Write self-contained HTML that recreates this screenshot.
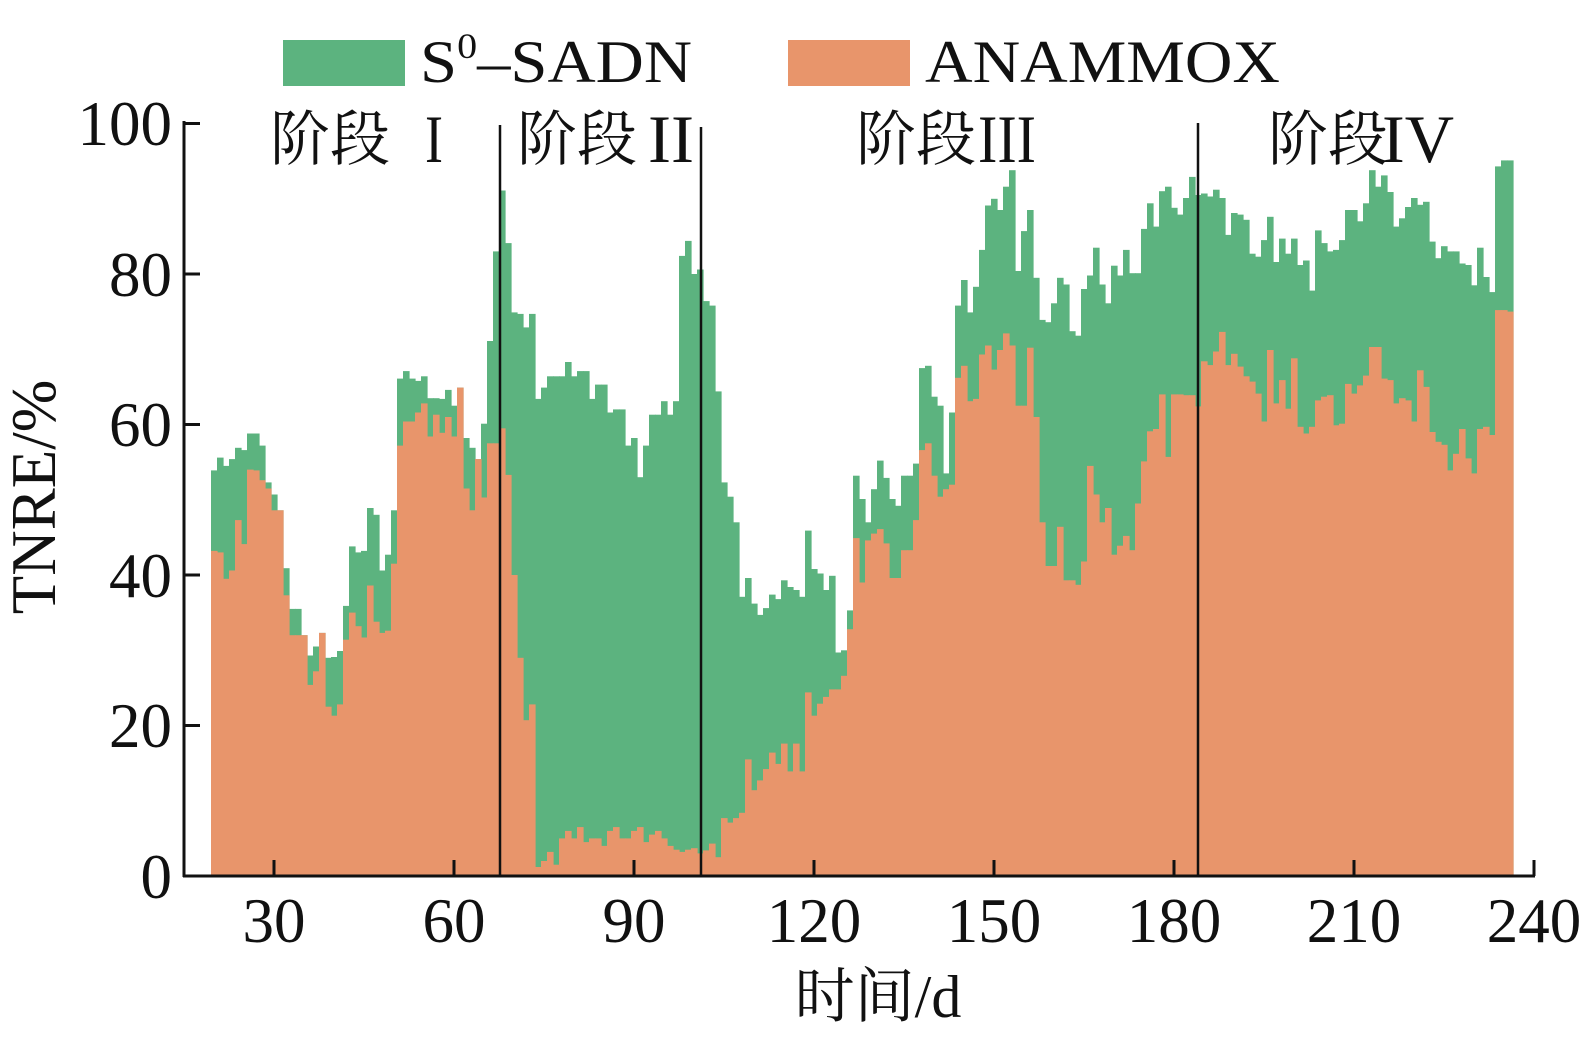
<!DOCTYPE html>
<html><head><meta charset="utf-8"><style>
html,body{margin:0;padding:0;background:#fff;}
svg{display:block;}
text{font-family:"Liberation Serif","Noto Serif CJK SC",serif;fill:#111;}
</style></head><body>
<svg id="s" width="1585" height="1050" viewBox="0 0 1585 1050" xmlns="http://www.w3.org/2000/svg">
<g id="bars"></g>
<g stroke="#111" stroke-width="3" fill="none">
<line x1="184" y1="121" x2="184" y2="877"/>
<line x1="183" y1="876" x2="1535" y2="876"/>
<line x1="184" y1="123.5" x2="200" y2="123.5"/>
<line x1="184" y1="274" x2="200" y2="274"/>
<line x1="184" y1="424.5" x2="200" y2="424.5"/>
<line x1="184" y1="575" x2="200" y2="575"/>
<line x1="184" y1="725.5" x2="200" y2="725.5"/>
<line x1="274" y1="876" x2="274" y2="860"/>
<line x1="454" y1="876" x2="454" y2="860"/>
<line x1="634" y1="876" x2="634" y2="860"/>
<line x1="814" y1="876" x2="814" y2="860"/>
<line x1="994" y1="876" x2="994" y2="860"/>
<line x1="1174" y1="876" x2="1174" y2="860"/>
<line x1="1354" y1="876" x2="1354" y2="860"/>
<line x1="1534" y1="876" x2="1534" y2="860"/>
</g>
<g stroke="#111" stroke-width="2.5">
<line x1="500" y1="125" x2="500" y2="876"/>
<line x1="701" y1="127" x2="701" y2="876"/>
<line x1="1198" y1="123" x2="1198" y2="876"/>
</g>
<g font-size="63" text-anchor="end">
<text x="172" y="145">100</text>
<text x="172" y="296">80</text>
<text x="172" y="446">60</text>
<text x="172" y="597">40</text>
<text x="172" y="747">20</text>
<text x="172" y="898">0</text>
</g>
<g font-size="63" text-anchor="middle">
<text x="274" y="942">30</text>
<text x="454" y="942">60</text>
<text x="634" y="942">90</text>
<text x="814" y="942">120</text>
<text x="994" y="942">150</text>
<text x="1174" y="942">180</text>
<text x="1354" y="942">210</text>
<text x="1534" y="942">240</text>
</g>
<text x="878" y="1017" font-size="60" text-anchor="middle">时间/d</text>
<text transform="translate(55,497) rotate(-90)" font-size="63" text-anchor="middle">TNRE/%</text>
<rect x="283" y="40" width="122" height="46" fill="#5cb37f"/>
<text x="420" y="82" font-size="60" textLength="272" lengthAdjust="spacingAndGlyphs">S<tspan font-size="36" dy="-24">0</tspan><tspan dy="24">–SADN</tspan></text>
<rect x="788" y="40" width="122" height="46" fill="#e8956b"/>
<text x="925" y="82" font-size="60" textLength="355" lengthAdjust="spacingAndGlyphs">ANAMMOX</text>
<g font-size="60">
<text x="270" y="160">阶段</text><text x="425" y="162" font-size="68" textLength="18" lengthAdjust="spacingAndGlyphs">I</text>
<text x="517" y="160">阶段</text><text x="648" y="162" font-size="68" textLength="46" lengthAdjust="spacingAndGlyphs">II</text>
<text x="856" y="160">阶段</text><text x="978" y="162" font-size="68" textLength="58" lengthAdjust="spacingAndGlyphs">III</text>
<text x="1268" y="160">阶段</text><text x="1382" y="162" font-size="68" textLength="72" lengthAdjust="spacingAndGlyphs">IV</text>
</g>
</svg>
<script>
var g=[53.9,55.6,54.5,55.4,56.9,56.6,58.8,58.8,57.2,52.3,50.7,48.6,40.9,35.5,35.5,32,29.3,30.5,32.3,29,29.1,29.9,35.9,43.8,43,43.2,48.9,48,40.6,42.7,48.6,66.1,67.1,66.1,65.8,
66.4,63.5,63.5,63.4,64.6,62.5,64.9,58.2,56.9,55.4,60.1,71.1,83,91.1,84.1,74.9,74.7,72.9,74.7,63.4,
64.9,66.4,66.4,66.4,68.3,66.4,67.1,67.1,63.4,65.3,65.3,61.6,62,62,57.2,58.2,53,57.2,61.3,61.3,63.1,61.3,63.1,82.4,84.4,80,80.6,
76.4,75.8,64.4,52.3,50.4,47,37.1,39.6,36.2,34.7,35.6,37.4,36.8,39.3,38.4,38,37.1,45.9,40.8,40.2,38,39.9,29.7,30,35.3,53.2,50.1,47,51.4,55.2,52.9,50.1,49.2,53.2,53.2,54.8,67.5,67.8,63.7,62.5,53.5,61.6,75.8,79.2,74.9,78.3,83.2,89.1,90,88.5,91.6,93.8,80.4,85.7,88.5,79.5,73.9,73.6,76.1,79.5,78.6,72.4,71.8,78,79.8,83.5,78.6,76.1,81.1,79.8,83.2,80.1,80.1,86,89.4,86.3,91,91.6,88.8,87.9,
90.1,92.9,90.5,
90.7,90.3,91.2,90.1,85.2,88.1,87.9,87.2,82.7,82.3,84.5,87.6,81.6,84.7,82.7,84.7,81.2,81.8,77.8,85.8,84.1,83,83.2,84.5,88.5,88.5,87,89.4,93.8,91.6,93.1,90.9,86.3,87.4,88.9,90.1,89.2,89.6,84.3,82.1,83.7,83,83,81.4,81.2,78.5,83.5,79.6,77.6,94.3,95.1,95.1];
var o=[43.2,43,39.5,40.6,47.3,44.1,54,53.9,52.6,51.5,48.6,48.6,37.3,32,32,32,25.4,27.2,32.3,22.5,21.3,22.8,31.4,35,33.2,31.7,38.6,33.8,32.3,32.6,41.5,57.2,60.4,60.4,61.6,
62.8,58.4,61.3,58.9,61,58.4,64.9,51.5,48.6,55.4,50.3,57.5,57.5,59.5,53.3,40,29,20.7,22.8,1.2,
2,3.2,1.5,5,6,5,6.5,4.5,5,5,4,6,6.5,5,5,6,6.5,4.5,5.5,6,5,4,3.5,3.2,3.5,3.7,3,
3.4,4.3,2.5,7.7,7.1,7.7,8.4,15.5,11.4,12.7,14.2,16.4,14.9,17.6,13.9,17.6,13.9,24.4,21.3,22.9,23.8,24.8,24.8,26.6,32.8,44.9,39,44.6,45.5,46.1,44.2,39.6,39.6,43.3,43.3,47.3,56.6,57.5,53.2,50.4,51.4,52,66.2,67.8,63.1,63.4,69.3,70.5,67.3,69.9,72.1,70.5,62.5,62.5,70.2,61,47,41.2,41.2,46.4,39.3,39.3,38.7,41.8,54.5,50.7,47,48.9,42.7,43.9,45.2,43.3,49.5,55.1,59.1,59.4,64,55.7,64,64,
63.9,63.9,62.4,
68.4,67.9,69.7,72.3,67.9,69.4,67.7,66.4,65.7,64.1,60.4,69.9,62.8,65.9,62.1,68.8,59.7,58.8,59.7,63.2,63.7,63.9,59.9,60.1,65.4,64.1,65.2,66.5,70.3,70.3,66.1,65.9,62.8,63.5,63.2,60.4,67.2,65,59,57.7,57.3,53.9,56.1,59.4,55.5,53.5,59.4,59.7,58.6,75.2,75.2,75];
var h='';
function Y(v){return 876-7.525*v;}
for(var i=0;i<g.length;i++){
 var d=20+i, x=91+6*d;
 var gv=Math.max(g[i],o[i]);
 h+='<rect x="'+x+'" y="'+Y(gv).toFixed(1)+'" width="6.6" height="'+(7.525*gv).toFixed(1)+'" fill="#5cb37f"/>';
}
for(var i=0;i<o.length;i++){
 var d=20+i, x=91+6*d;
 h+='<rect x="'+x+'" y="'+Y(o[i]).toFixed(1)+'" width="6.6" height="'+(7.525*o[i]).toFixed(1)+'" fill="#e8956b"/>';
}
document.getElementById('bars').innerHTML=h;
</script>
</body></html>
